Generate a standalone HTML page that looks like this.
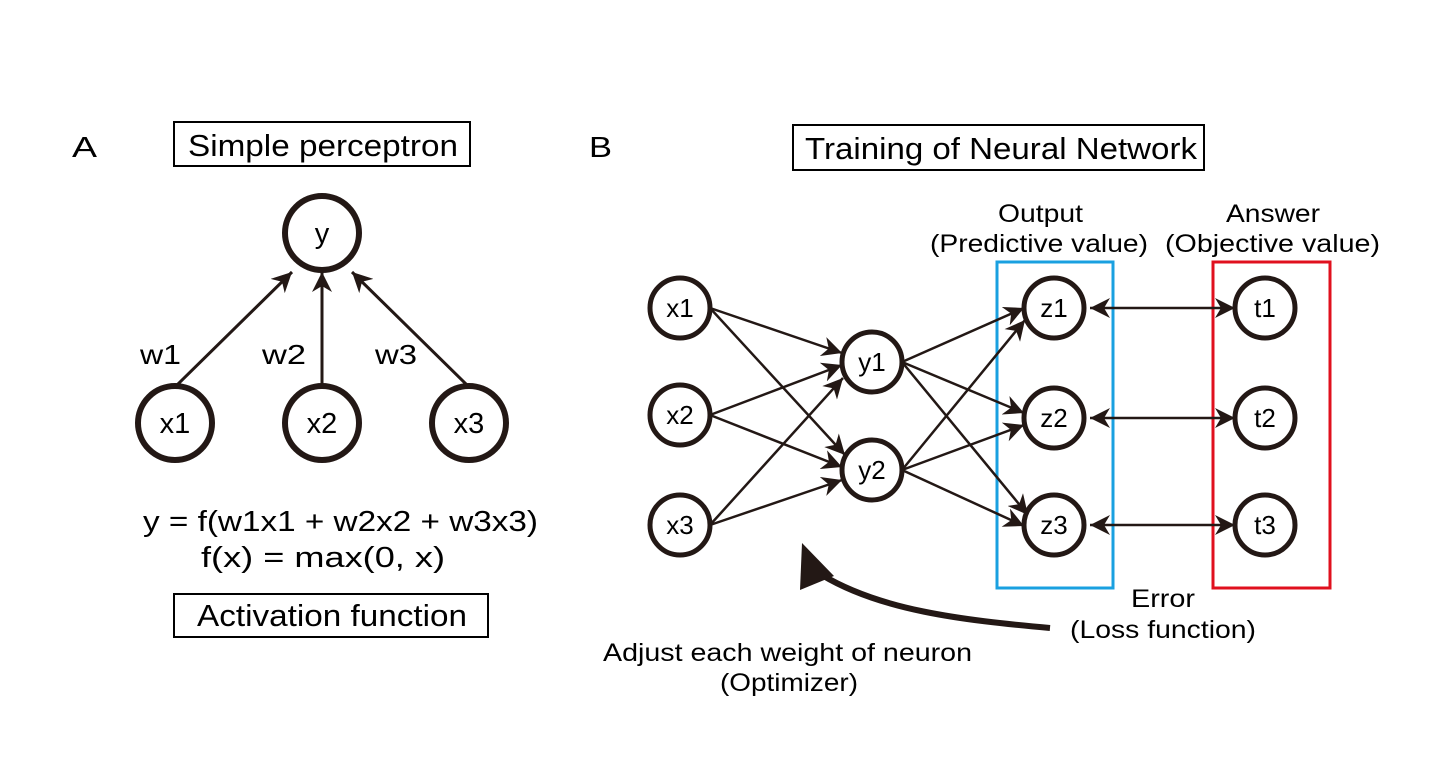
<!DOCTYPE html>
<html><head><meta charset="utf-8"><style>
html,body{margin:0;padding:0;background:#fff;}
svg{display:block;font-family:"Liberation Sans",Arial,sans-serif;}
</style></head><body>
<svg width="1451" height="768" viewBox="0 0 1451 768" xmlns="http://www.w3.org/2000/svg">
<defs>
<marker id="a2" viewBox="0 0 10 10" refX="10" refY="5" markerWidth="20" markerHeight="20" markerUnits="userSpaceOnUse" orient="auto-start-reverse">
<path d="M0,0 L10,5 L0,10 L3,5 z" fill="#231815"/></marker>
</defs>
<g fill="#000" font-size="29">
<text x="72" y="157" textLength="25" lengthAdjust="spacingAndGlyphs">A</text>
<text x="589" y="157" textLength="23" lengthAdjust="spacingAndGlyphs">B</text>
</g>
<rect x="174" y="122" width="296" height="44" fill="none" stroke="#000" stroke-width="2"/>
<text x="188" y="156" font-size="31" textLength="270" lengthAdjust="spacingAndGlyphs">Simple perceptron</text>
<rect x="793" y="125" width="411" height="45" fill="none" stroke="#000" stroke-width="2"/>
<text x="805" y="159" font-size="31" textLength="392" lengthAdjust="spacingAndGlyphs">Training of Neural Network</text>
<rect x="174" y="594" width="314" height="43" fill="none" stroke="#000" stroke-width="2"/>
<text x="197" y="626" font-size="31" textLength="270" lengthAdjust="spacingAndGlyphs">Activation function</text>
<g font-size="29">
<text x="143" y="531" textLength="395" lengthAdjust="spacingAndGlyphs">y = f(w1x1 + w2x2 + w3x3)</text>
<text x="201" y="567" textLength="244" lengthAdjust="spacingAndGlyphs">f(x) = max(0, x)</text>
</g>
<g stroke="#231815" stroke-width="3" fill="none">
<line x1="177" y1="385" x2="292" y2="272" marker-end="url(#a2)"/>
<line x1="322" y1="385" x2="322" y2="272" marker-end="url(#a2)"/>
<line x1="467" y1="385" x2="352" y2="272" marker-end="url(#a2)"/>
</g>
<g font-size="28">
<text x="140" y="364" textLength="41" lengthAdjust="spacingAndGlyphs">w1</text>
<text x="262" y="364" textLength="44" lengthAdjust="spacingAndGlyphs">w2</text>
<text x="375" y="364" textLength="42" lengthAdjust="spacingAndGlyphs">w3</text>
</g>
<g fill="#fff" stroke="#231815" stroke-width="6">
<circle cx="322" cy="233" r="37"/>
<circle cx="175" cy="423" r="37"/>
<circle cx="322" cy="423" r="37"/>
<circle cx="469" cy="423" r="37"/>
</g>
<g font-size="29" text-anchor="middle">
<text x="322" y="243">y</text>
<text x="175" y="433">x1</text>
<text x="322" y="433">x2</text>
<text x="469" y="433">x3</text>
</g>
<rect x="997" y="262" width="116" height="326" fill="none" stroke="#1aa0e0" stroke-width="3"/>
<rect x="1213" y="262" width="117" height="326" fill="none" stroke="#e0101e" stroke-width="3"/>
<g font-size="25">
<text x="998" y="222" textLength="85" lengthAdjust="spacingAndGlyphs">Output</text>
<text x="930" y="252" textLength="218" lengthAdjust="spacingAndGlyphs">(Predictive value)</text>
<text x="1226" y="222" textLength="94" lengthAdjust="spacingAndGlyphs">Answer</text>
<text x="1165" y="252" textLength="215" lengthAdjust="spacingAndGlyphs">(Objective value)</text>
<text x="1131" y="607" textLength="64" lengthAdjust="spacingAndGlyphs">Error</text>
<text x="1070" y="638" textLength="186" lengthAdjust="spacingAndGlyphs">(Loss function)</text>
<text x="603" y="661" textLength="369" lengthAdjust="spacingAndGlyphs">Adjust each weight of neuron</text>
<text x="720" y="691" textLength="138" lengthAdjust="spacingAndGlyphs">(Optimizer)</text>
</g>
<g stroke="#231815" stroke-width="2.5" fill="none" marker-end="url(#a2)">
<line x1="710" y1="308" x2="842" y2="353"/>
<line x1="710" y1="308" x2="845" y2="455"/>
<line x1="710" y1="415" x2="842" y2="365"/>
<line x1="710" y1="415" x2="842" y2="467"/>
<line x1="710" y1="525" x2="843" y2="378"/>
<line x1="710" y1="525" x2="842" y2="480"/>
<line x1="902" y1="362" x2="1024" y2="308"/>
<line x1="902" y1="362" x2="1024" y2="413"/>
<line x1="902" y1="362" x2="1028" y2="515"/>
<line x1="902" y1="470" x2="1025" y2="320"/>
<line x1="902" y1="470" x2="1024" y2="425"/>
<line x1="902" y1="470" x2="1024" y2="526"/>
<line x1="1090" y1="308" x2="1235" y2="308" marker-start="url(#a2)"/>
<line x1="1090" y1="418" x2="1235" y2="418" marker-start="url(#a2)"/>
<line x1="1090" y1="525" x2="1235" y2="525" marker-start="url(#a2)"/>
</g>
<g fill="#fff" stroke="#231815" stroke-width="5">
<circle cx="680" cy="308" r="30"/><circle cx="680" cy="415" r="30"/><circle cx="680" cy="525" r="30"/>
<circle cx="872" cy="362" r="30"/><circle cx="872" cy="470" r="30"/>
<circle cx="1054" cy="308" r="30"/><circle cx="1054" cy="418" r="30"/><circle cx="1054" cy="525" r="30"/>
<circle cx="1265" cy="308" r="30"/><circle cx="1265" cy="418" r="30"/><circle cx="1265" cy="525" r="30"/>
</g>
<g font-size="26" text-anchor="middle">
<text x="680" y="317">x1</text><text x="680" y="424">x2</text><text x="680" y="534">x3</text>
<text x="872" y="371">y1</text><text x="872" y="479">y2</text>
<text x="1054" y="317">z1</text><text x="1054" y="427">z2</text><text x="1054" y="534">z3</text>
<text x="1265" y="317">t1</text><text x="1265" y="427">t2</text><text x="1265" y="534">t3</text>
</g>
<path d="M1050,628 C960,620 880,610 822,575" fill="none" stroke="#231815" stroke-width="6"/>
<path d="M802,543 L800,590 L834,576 z" fill="#231815"/>
</svg>
</body></html>
